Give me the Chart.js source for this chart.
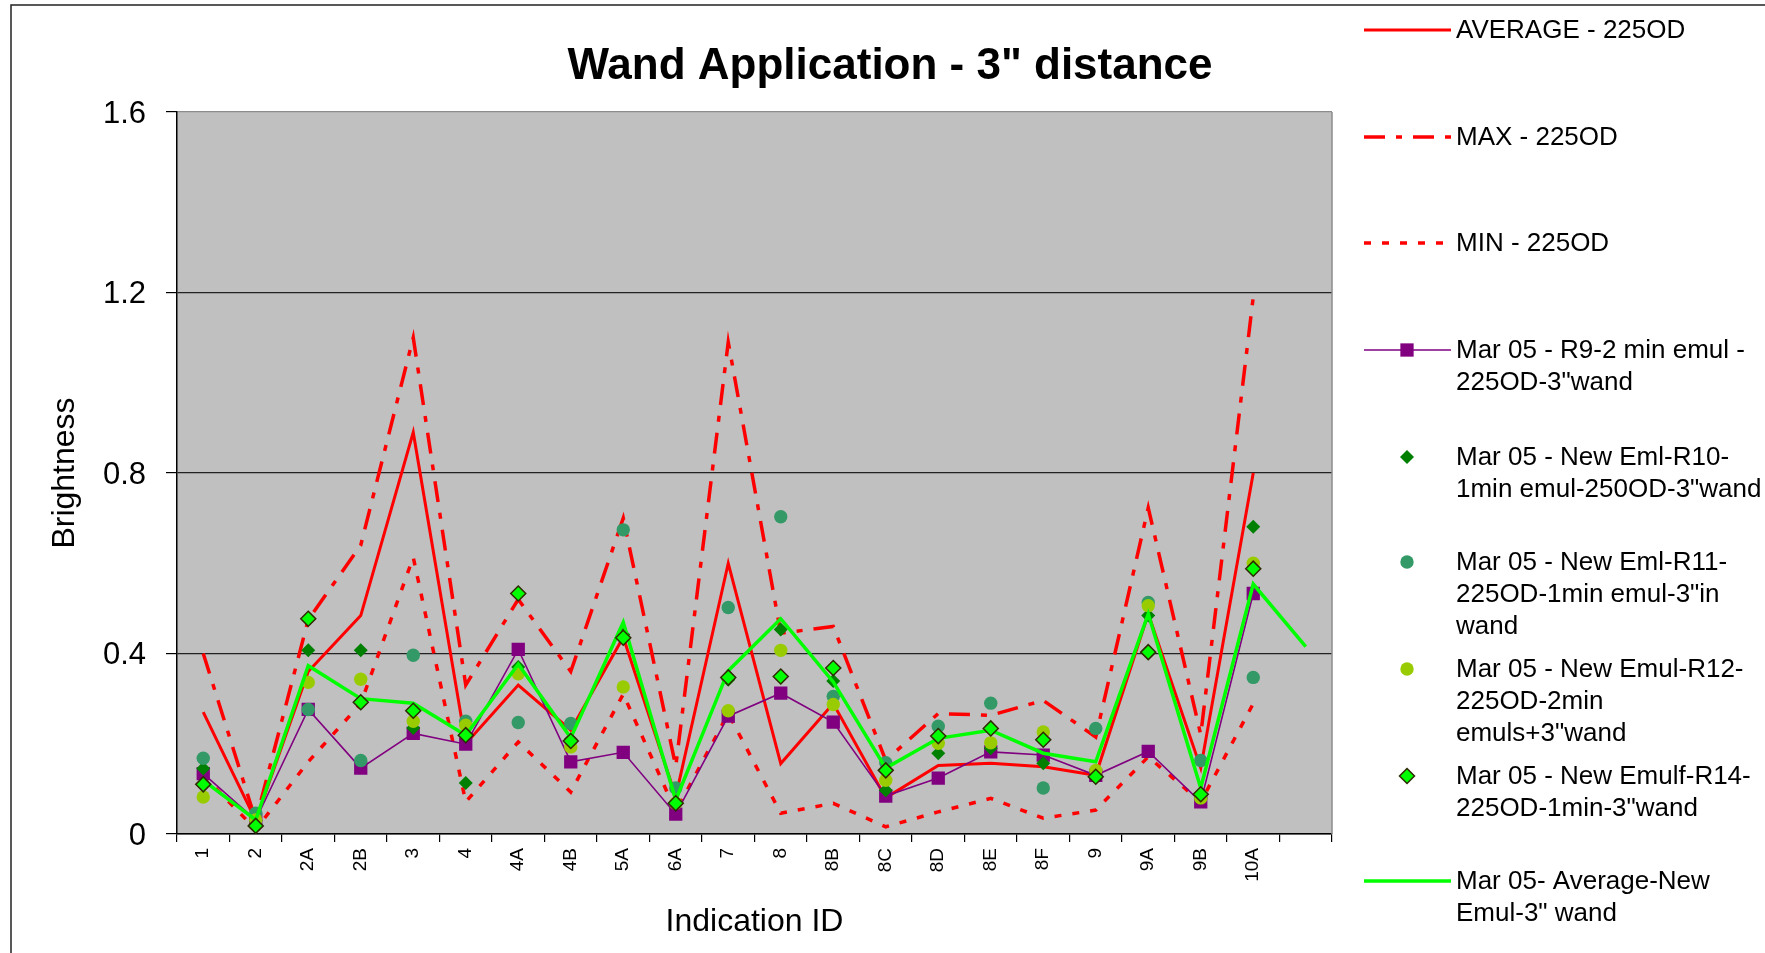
<!DOCTYPE html>
<html>
<head>
<meta charset="utf-8">
<title>Wand Application - 3" distance</title>
<script src="https://cdn.jsdelivr.net/npm/chart.js@4.4.1/dist/chart.umd.min.js"></script>
<style>
    html, body { margin: 0; padding: 0; background: #fff; }
    #wrap { width: 1765px; height: 953px; }
</style>
</head>
<body>
<div id="wrap"><canvas id="wand-chart" width="1765" height="953"></canvas></div>
<script>
// Indication IDs (last slot has no label, only the new-emul average reaches it)
const indicationIds = ['1', '2', '2A', '2B', '3', '4', '4A', '4B', '5A', '6A', '7', '8', '8B', '8C', '8D', '8E', '8F', '9', '9A', '9B', '10A', ''];

const avg225 = [0.27, 0.03, 0.36, 0.484, 0.89, 0.2, 0.33, 0.23, 0.436, 0.083, 0.6, 0.156, 0.289, 0.08, 0.152, 0.157, 0.149, 0.13, 0.488, 0.146, 0.8, null];
const max225 = [0.4, 0.03, 0.475, 0.64, 1.1, 0.33, 0.52, 0.36, 0.7, 0.15, 1.09, 0.445, 0.46, 0.163, 0.267, 0.263, 0.296, 0.215, 0.723, 0.22, 1.19, null];
const min225 = [0.13, 0.01, 0.16, 0.289, 0.613, 0.071, 0.204, 0.093, 0.31, 0.05, 0.267, 0.046, 0.068, 0.016, 0.049, 0.079, 0.035, 0.053, 0.171, 0.071, 0.289, null];
const r9 = [0.134, 0.031, 0.276, 0.146, 0.223, 0.199, 0.409, 0.16, 0.181, 0.044, 0.261, 0.312, 0.248, 0.084, 0.124, 0.182, 0.175, 0.13, 0.183, 0.071, 0.533, null];
const r10 = [0.145, 0.03, 0.407, 0.407, 0.235, 0.113, 0.37, 0.21, 0.442, 0.07, 0.342, 0.453, 0.339, 0.097, 0.179, 0.19, 0.157, 0.13, 0.484, 0.08, 0.681, null];
const r11 = [0.168, 0.046, 0.276, 0.163, 0.396, 0.25, 0.247, 0.245, 0.674, 0.102, 0.502, 0.703, 0.305, 0.158, 0.239, 0.29, 0.102, 0.234, 0.513, 0.163, 0.347, null];
const r12 = [0.082, 0.031, 0.336, 0.343, 0.25, 0.241, 0.355, 0.193, 0.326, 0.068, 0.273, 0.407, 0.287, 0.119, 0.201, 0.202, 0.226, 0.141, 0.506, 0.08, 0.6, null];
const r14 = [0.11, 0.018, 0.477, 0.292, 0.273, 0.219, 0.533, 0.206, 0.435, 0.068, 0.347, 0.349, 0.368, 0.141, 0.217, 0.234, 0.209, 0.127, 0.403, 0.088, 0.588, null];
const avgNew = [0.119, 0.031, 0.373, 0.3, 0.29, 0.219, 0.376, 0.213, 0.469, 0.075, 0.362, 0.477, 0.337, 0.146, 0.212, 0.23, 0.179, 0.16, 0.488, 0.102, 0.554, 0.415];

const yTicks = [0, 0.4, 0.8, 1.2, 1.6];

const FONT = '"Liberation Sans", Arial, sans-serif';

// dataset order: lower number is drawn on top
const datasets = [
    { label: 'AVERAGE - 225OD', data: avg225, borderColor: '#ff0000', borderWidth: 3, pointRadius: 0, order: 7 },
    { label: 'MAX - 225OD', data: max225, borderColor: '#ff0000', borderWidth: 3.5, borderDash: [21, 11, 6, 11], pointRadius: 0, order: 8 },
    { label: 'MIN - 225OD', data: min225, borderColor: '#ff0000', borderWidth: 3.5, borderDash: [7, 11], pointRadius: 0, order: 9 },
    { label: 'Mar 05 - R9-2 min emul -\n225OD-3"wand', data: r9, borderColor: '#800080', backgroundColor: '#800080', borderWidth: 1.6,
      pointStyle: 'rect', pointRadius: 9.4, pointBorderWidth: 0, order: 6 },
    { label: 'Mar 05 - New Eml-R10-\n1min emul-250OD-3"wand', data: r10, showLine: false, backgroundColor: '#008000', borderColor: '#008000',
      pointStyle: 'rectRot', pointRadius: 7, pointBorderWidth: 0, order: 5 },
    { label: 'Mar 05 - New Eml-R11-\n225OD-1min emul-3"in\nwand', data: r11, showLine: false, backgroundColor: '#339966', borderColor: '#339966',
      pointStyle: 'circle', pointRadius: 6.7, pointBorderWidth: 0, order: 4 },
    { label: 'Mar 05 - New Emul-R12-\n225OD-2min\nemuls+3"wand', data: r12, showLine: false, backgroundColor: '#99cc00', borderColor: '#99cc00',
      pointStyle: 'circle', pointRadius: 6.7, pointBorderWidth: 0, order: 3 },
    { label: 'Mar 05 - New Emulf-R14-\n225OD-1min-3"wand', data: r14, showLine: false, backgroundColor: '#00ff00', borderColor: '#2e2a00',
      pointStyle: 'rectRot', pointRadius: 7.5, pointBorderWidth: 1.5, order: 1 },
    { label: 'Mar 05- Average-New\nEmul-3" wand', data: avgNew, borderColor: '#00ff00', borderWidth: 3.5, pointRadius: 0, order: 2 }
];

// grey plot area, frame and title
const framePlugin = {
    id: 'frame',
    beforeDraw(chart) {
        const { ctx, chartArea: a } = chart;
        ctx.save();
        ctx.fillStyle = '#fff';
        ctx.fillRect(0, 0, chart.width, chart.height);
        ctx.fillStyle = '#c0c0c0';
        ctx.fillRect(a.left, a.top, a.right - a.left, a.bottom - a.top);
        ctx.restore();
    },
    beforeDatasetsDraw(chart) {
        const { ctx, chartArea: a } = chart;
        ctx.save();
        ctx.strokeStyle = '#8c8c8c';
        ctx.lineWidth = 1.5;
        ctx.beginPath();
        ctx.moveTo(a.right, a.top);
        ctx.lineTo(a.right, a.bottom);
        ctx.stroke();
        ctx.restore();
    },
    afterDraw(chart) {
        const ctx = chart.ctx;
        ctx.save();
        // outer chart border
        ctx.strokeStyle = '#222';
        ctx.lineWidth = 1.5;
        ctx.beginPath();
        ctx.moveTo(11, chart.height);
        ctx.lineTo(11, 5);
        ctx.lineTo(chart.width, 5);
        ctx.stroke();
        // title
        ctx.fillStyle = '#000';
        ctx.font = 'bold 44px ' + FONT;
        ctx.textAlign = 'center';
        ctx.textBaseline = 'middle';
        ctx.fillText('Wand Application - 3" distance', 890, 67);
        ctx.restore();
    }
};

// legend on the right, with wrapped labels like the original
const legendPlugin = {
    id: 'sideLegend',
    afterDraw(chart) {
        const ctx = chart.ctx;
        const rowY = [31, 138, 244, 351, 458, 563, 670, 777, 882];
        const lineH = 31.7;
        ctx.save();
        ctx.font = '26px ' + FONT;
        ctx.textBaseline = 'middle';
        ctx.textAlign = 'left';
        chart.data.datasets.forEach((ds, i) => {
            const y = rowY[i];
            const mx = 1407;
            if (ds.showLine !== false) {
                ctx.save();
                ctx.strokeStyle = ds.borderColor;
                ctx.lineWidth = ds.borderWidth;
                ctx.setLineDash(ds.borderDash || []);
                ctx.beginPath();
                ctx.moveTo(1364, y - 1);
                ctx.lineTo(1451, y - 1);
                ctx.stroke();
                ctx.restore();
            }
            if (ds.pointRadius > 0) {
                ctx.save();
                ctx.fillStyle = ds.backgroundColor;
                ctx.strokeStyle = ds.borderColor;
                ctx.lineWidth = ds.pointBorderWidth;
                ctx.beginPath();
                const py = y - 1;
                if (ds.pointStyle === 'rect') {
                    const h = ds.pointRadius * Math.SQRT1_2;
                    ctx.rect(mx - h, py - h, 2 * h, 2 * h);
                } else if (ds.pointStyle === 'rectRot') {
                    const r = ds.pointRadius;
                    ctx.moveTo(mx, py - r);
                    ctx.lineTo(mx + r, py);
                    ctx.lineTo(mx, py + r);
                    ctx.lineTo(mx - r, py);
                    ctx.closePath();
                } else {
                    ctx.arc(mx, py, ds.pointRadius, 0, Math.PI * 2);
                }
                ctx.fill();
                if (ds.pointBorderWidth) ctx.stroke();
                ctx.restore();
            }
            ctx.fillStyle = '#000';
            ds.label.split('\n').forEach((line, k) => {
                ctx.fillText(line, 1456, y + k * lineH);
            });
        });
        ctx.restore();
    }
};

new Chart(document.getElementById('wand-chart'), {
    type: 'line',
    data: { labels: indicationIds, datasets: datasets },
    options: {
        responsive: false,
        animation: false,
        layout: { padding: { left: 0, right: 433, top: 112, bottom: 0 } },
        elements: { line: { tension: 0, fill: false } },
        plugins: {
            legend: { display: false },
            title: { display: false },
            tooltip: { enabled: false }
        },
        scales: {
            x: {
                offset: true,
                grid: { display: true, drawOnChartArea: false, offset: true, tickLength: 8, color: '#000', lineWidth: 1.2 },
                border: { display: true, color: '#000', width: 1.5 },
                ticks: { autoSkip: false, minRotation: 90, maxRotation: 90, padding: 6, color: '#000', font: { size: 19, family: FONT } },
                title: { display: true, text: 'Indication ID', color: '#000', font: { size: 32, family: FONT }, padding: { top: 0, bottom: 12 } },
                afterFit(scale) { scale.height = 119; }
            },
            y: {
                min: 0,
                max: 1.6,
                afterBuildTicks(scale) { scale.ticks = yTicks.map(v => ({ value: v })); },
                ticks: { padding: 20, labelOffset: 2, color: '#000', font: { size: 31, family: FONT },
                    callback: v => String(Math.round(v * 10) / 10) },
                grid: {
                    color: c => (c.tick && c.tick.value >= 1.59) ? '#8c8c8c' : '#222',
                    lineWidth: 1.2, tickLength: 11, tickColor: '#000'
                },
                border: { color: '#000', width: 1.5 },
                title: { display: true, text: 'Brightness', color: '#000', font: { size: 32, family: FONT }, padding: { top: 46, bottom: 0 } },
                afterFit(scale) { scale.width = 177; }
            }
        }
    },
    plugins: [framePlugin, legendPlugin]
});
</script>
</body>
</html>
